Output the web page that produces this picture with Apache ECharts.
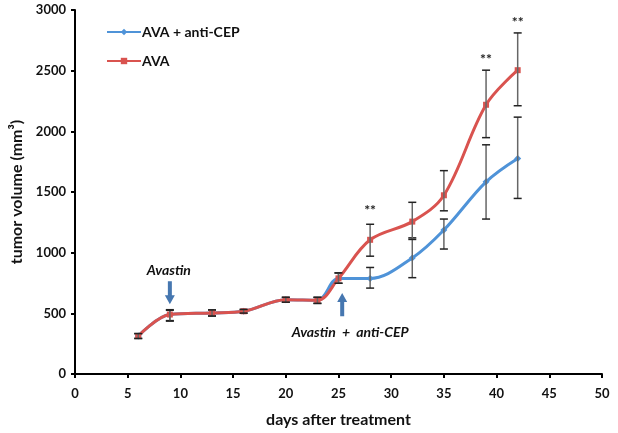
<!DOCTYPE html>
<html><head><meta charset="utf-8">
<script src="https://cdn.jsdelivr.net/npm/echarts@6/dist/echarts.min.js"></script>
<style>html,body{margin:0;padding:0;background:#fff}#c{width:618px;height:433px}</style>
</head><body><div id="c"></div>
<script>
var days = [6, 9, 13, 16, 20, 23, 25, 28, 32, 35, 39, 42];
var avaCep = [313, 490, 503, 517, 612, 607, 788, 788, 957, 1187, 1584, 1777];
var avaCepUp = [20, 40, 25, 15, 20, 25, 45, 90, 165, 90, 305, 340];
var avaCepDown = [20, 50, 25, 15, 20, 25, 40, 80, 163, 157, 307, 330];
var ava = [313, 490, 503, 517, 612, 607, 788, 1106, 1256, 1473, 2219, 2504];
var avaUp = [20, 35, 25, 15, 20, 25, 45, 128, 159, 203, 285, 307];
var avaDown = [20, 54, 25, 15, 20, 25, 40, 135, 147, 128, 271, 293];
var starDays = [28, 39, 42];
var starValues = [1348, 2594, 2895];
var xTicks = [0, 5, 10, 15, 20, 25, 30, 35, 40, 45, 50];
var yTicks = [0, 500, 1000, 1500, 2000, 2500, 3000];

var BLUE = '#4f93d8', RED = '#d9534f', ARROW = '#4677b0';
var FONT = 'Lato';

function pairs(v) { return days.map(function (d, i) { return [d, v[i]]; }); }
function errData(v, up, down) { return days.map(function (d, i) { return [d, v[i] - down[i], v[i] + up[i]]; }); }
function errRender(params, api) {
  var x = api.value(0);
  var lo = api.coord([x, api.value(1)]);
  var hi = api.coord([x, api.value(2)]);
  var w = 4;
  var cap = { stroke: '#222', lineWidth: 1.5 };
  return { type: 'group', children: [
    { type: 'line', shape: { x1: lo[0], y1: lo[1], x2: hi[0], y2: hi[1] }, style: { stroke: '#666', lineWidth: 1.5 } },
    { type: 'line', shape: { x1: lo[0] - w, y1: lo[1], x2: lo[0] + w, y2: lo[1] }, style: cap },
    { type: 'line', shape: { x1: hi[0] - w, y1: hi[1], x2: hi[0] + w, y2: hi[1] }, style: cap }
  ]};
}

var chart = echarts.init(document.getElementById('c'));
chart.setOption({
  animation: false,
  backgroundColor: '#fff',
  textStyle: { fontFamily: FONT },
  grid: { left: 75, right: 16, top: 10, bottom: 54, containLabel: false },
  legend: {
    orient: 'vertical', left: 101, top: 20, itemWidth: 34, itemHeight: 8, itemGap: 15,
    data: ['AVA + anti-CEP', 'AVA'],
    textStyle: { fontFamily: FONT, fontWeight: 'bold', fontSize: 14, color: '#111', padding: [0, 0, 0, -4] }
  },
  xAxis: {
    type: 'value', min: 0, max: 50, interval: 5,
    name: 'days after treatment', nameLocation: 'middle', nameGap: 38,
    nameTextStyle: { fontFamily: FONT, fontWeight: 'bold', fontSize: 16, color: '#111' },
    axisLine: { lineStyle: { color: '#000', width: 2 } },
    axisTick: { show: true, length: 4, lineStyle: { color: '#000', width: 2 } },
    axisLabel: { fontFamily: FONT, fontWeight: 'bold', fontSize: 13, color: '#111', margin: 13,
      formatter: function (v) { return xTicks.indexOf(v) >= 0 ? String(v) : ''; } },
    splitLine: { show: false }
  },
  yAxis: {
    type: 'value', min: 0, max: 3000, interval: 500,
    name: 'tumor volume (mm³)', nameLocation: 'middle', nameGap: 47, nameRotate: 90,
    nameTextStyle: { fontFamily: FONT, fontWeight: 'bold', fontSize: 16, color: '#111' },
    axisLine: { show: true, lineStyle: { color: '#000', width: 2 } },
    axisTick: { show: true, length: 4, lineStyle: { color: '#000', width: 2 } },
    axisLabel: { fontFamily: FONT, fontWeight: 'bold', fontSize: 13, color: '#111', margin: 9,
      formatter: function (v) { return yTicks.indexOf(v) >= 0 ? String(v) : ''; } },
    splitLine: { show: false }
  },
  series: [
    { name: 'AVA + anti-CEP', type: 'line', data: pairs(avaCep), smooth: 0.35,
      symbol: 'diamond', symbolSize: 7, showSymbol: true,
      lineStyle: { color: BLUE, width: 3 }, itemStyle: { color: BLUE }, z: 3 },
    { name: 'errCep', type: 'custom', data: errData(avaCep, avaCepUp, avaCepDown), renderItem: errRender, z: 4, silent: true },
    { name: 'AVA', type: 'line', data: pairs(ava), smooth: 0.35,
      symbol: 'rect', symbolSize: 6, showSymbol: true,
      lineStyle: { color: RED, width: 3 }, itemStyle: { color: RED }, z: 5 },
    { name: 'errAva', type: 'custom', data: errData(ava, avaUp, avaDown), renderItem: errRender, z: 6, silent: true },
    { name: 'stars', type: 'custom', silent: true, z: 7,
      data: starDays.map(function (d, i) { return [d, starValues[i]]; }),
      renderItem: function (params, api) {
        var p = api.coord([api.value(0), api.value(1)]);
        return { type: 'text', x: p[0], y: p[1], style: { text: '**', fontFamily: FONT, fontWeight: 'bold', fontSize: 14, fill: '#222', align: 'center', verticalAlign: 'middle' } };
      } }
  ]
});

function arrow(x, yTail, yHead, color) {
  var dir = yHead > yTail ? 1 : -1;
  var headLen = 9, headW = 5, shaftW = 2;
  var yb = yHead - dir * headLen;
  return { type: 'polygon', shape: { points: [
    [x - shaftW, yTail], [x + shaftW, yTail], [x + shaftW, yb], [x + headW, yb], [x, yHead], [x - headW, yb], [x - shaftW, yb]
  ] }, style: { fill: color }, z: 10 };
}
var a1t = chart.convertToPixel({ gridIndex: 0 }, [9, 765]);
var a1h = chart.convertToPixel({ gridIndex: 0 }, [9, 574]);
var a2t = chart.convertToPixel({ gridIndex: 0 }, [25.35, 476]);
var a2h = chart.convertToPixel({ gridIndex: 0 }, [25.35, 668]);
var t1 = chart.convertToPixel({ gridIndex: 0 }, [8.9, 850]);
var t2 = chart.convertToPixel({ gridIndex: 0 }, [26.1, 340]);
chart.setOption({ graphic: [
  arrow(a1t[0], a1t[1], a1h[1], ARROW),
  arrow(a2t[0], a2t[1], a2h[1], ARROW),
  { type: 'text', x: t1[0], y: t1[1], style: { text: 'Avastin', fontFamily: FONT, fontStyle: 'italic', fontWeight: 'bold', fontSize: 14, fill: '#111', align: 'center', verticalAlign: 'middle' } },
  { type: 'text', x: t2[0], y: t2[1], style: { text: 'Avastin  +  anti-CEP', fontFamily: FONT, fontStyle: 'italic', fontWeight: 'bold', fontSize: 14, fill: '#111', align: 'center', verticalAlign: 'middle' } }
] });
</script></body></html>
